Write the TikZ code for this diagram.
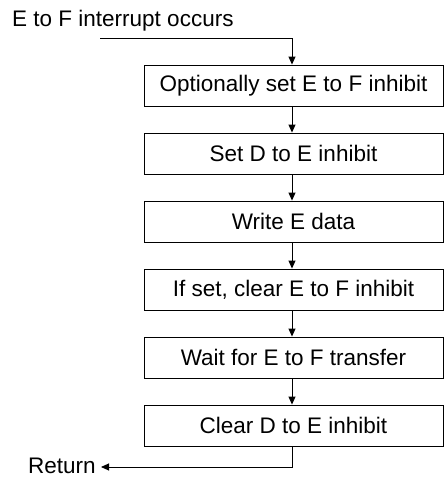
\documentclass[tikz,border=0pt]{standalone}
\usepackage{fontspec}
\setmainfont{Liberation Sans}
\usetikzlibrary{arrows.meta}
\begin{document}
\begin{tikzpicture}[x=1pt,y=-1pt,
  every node/.style={font=\fontsize{22.5}{27}\selectfont},
  stepbox/.style={draw, line width=0.9pt, minimum width=299pt, minimum height=41pt, inner sep=0pt, anchor=center},
  flow/.style={line width=0.9pt, -{Triangle[length=8pt,width=7pt]}},
  lbl/.style={inner sep=0pt}]
\useasboundingbox (0,0) rectangle (444,480);
\node[lbl, anchor=base west] (start) at (12,26) {E to F interrupt occurs};
\coordinate (in) at (100,38);
\node[stepbox] (b1) at (293.5,85.5) {Optionally set E to F inhibit};
\node[stepbox] (b2) at (293.5,153.5) {Set D to E inhibit};
\node[stepbox] (b3) at (293.5,221.5) {Write E data};
\node[stepbox] (b4) at (293.5,289.5) {If set, clear E to F inhibit};
\node[stepbox] (b5) at (293.5,357.5) {Wait for E to F transfer};
\node[stepbox] (b6) at (293.5,425.5) {Clear D to E inhibit};
\node[lbl, anchor=base west] (ret) at (28,473) {Return};
\coordinate (ax) at (292,0);
\coordinate (out) at (101,467);
\draw[flow] (in) -| (b1.north -| ax);
\draw[flow] (b1.south -| ax) -- (b2.north -| ax);
\draw[flow] (b2.south -| ax) -- (b3.north -| ax);
\draw[flow] (b3.south -| ax) -- (b4.north -| ax);
\draw[flow] (b4.south -| ax) -- (b5.north -| ax);
\draw[flow] (b5.south -| ax) -- (b6.north -| ax);
\draw[flow] (b6.south -| ax) |- (out);
\end{tikzpicture}
\end{document}
